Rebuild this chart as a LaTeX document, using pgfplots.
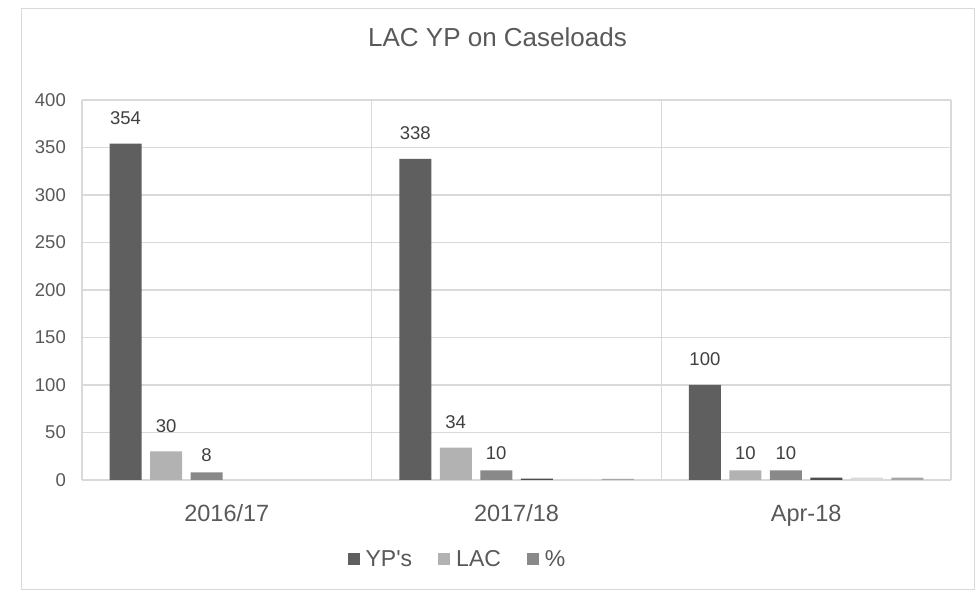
\documentclass[border=0pt]{standalone}
\usepackage{pgfplots}
\pgfplotsset{compat=1.18}
\usepackage{fontspec}
\setmainfont{Liberation Sans}
\newfontfamily\arial{Liberation Sans}
\definecolor{ypc}{HTML}{5F5F5F}
\definecolor{lacc}{HTML}{B2B2B2}
\definecolor{pctc}{HTML}{898989}
\definecolor{s4c}{HTML}{4D4D4D}
\definecolor{s5c}{HTML}{D9D9D9}
\definecolor{s6c}{HTML}{A6A6A6}
\definecolor{gridc}{HTML}{D9D9D9}
\definecolor{txt}{HTML}{595959}
\definecolor{lbl}{HTML}{404040}
\pgfplotsset{/pgf/number format/assume math mode=true}
\begin{document}
\begin{tikzpicture}
\useasboundingbox (0pt,0pt) rectangle (980pt,591pt);
\fill[white] (0pt,0pt) rectangle (980pt,591pt);
\draw[color=gridc, line width=1pt] (21.5pt,1pt) rectangle (974pt,582pt);
\node[anchor=base, inner sep=0pt, font=\arial\fontsize{26}{30}\selectfont, text=txt] at (497.5pt,544.3pt) {LAC YP on Caseloads};
\begin{axis}[
  at={(82pt,111pt)}, anchor=south west,
  scale only axis, width=869pt, height=380pt,
  ybar,
  bar width=32pt,
  ymin=0, ymax=400, ytick={0,50,...,400},
  xmin=-0.5, xmax=2.5,
  xtick={0,1,2},
  xticklabels={2016/17,2017/18,Apr-18},
  extra x ticks={-0.5,0.5,1.5,2.5},
  extra x tick labels={{},{},{},{}},
  extra x tick style={grid=major},
  ymajorgrids,
  grid style={color=gridc, line width=1.3pt},
  axis line style={draw=none},
  major tick length=0pt,
  yticklabel style={font=\arial\fontsize{18.5}{20}\selectfont, text=txt, anchor=east, inner sep=0pt, xshift=-16pt},
  xticklabel style={font=\arial\fontsize{23.5}{26}\selectfont, text=txt, anchor=base, inner sep=0pt, yshift=-41.7pt},
  visualization depends on={y \as \rawy},
  every node near coord/.append style={font=\arial\fontsize{18.5}{20}\selectfont, text=lbl, anchor=south, inner sep=0pt, yshift={ifthenelse(\rawy<20,11,19)*1pt}},
  legend style={at={(0.3057,-0.2079)}, anchor=west, draw=none, fill=none, inner sep=0pt, outer sep=0pt,
    legend columns=3, font=\arial\fontsize{23}{26}\selectfont, text=txt, nodes={inner sep=0pt},
    column sep=0pt,
    /tikz/every odd column/.append style={column sep=6pt},
    /tikz/every even column/.append style={column sep=26pt}},
  legend cell align=left,
  legend image code/.code={\fill[#1] (0pt,-6pt) rectangle (12pt,6pt);},
]
\addplot[fill=ypc, draw=none, bar shift=-101.25pt, nodes near coords] coordinates {(0,354) (1,338) (2,100)};
\addlegendentry{YP\symbol{39}s}
\addplot[fill=lacc, draw=none, bar shift=-60.75pt, nodes near coords] coordinates {(0,30) (1,34) (2,10)};
\addlegendentry{LAC}
\addplot[fill=pctc, draw=none, bar shift=-20.25pt, nodes near coords] coordinates {(0,8) (1,10) (2,10)};
\addlegendentry{\%}
\addplot[fill=s4c, draw=none, bar shift=20.25pt, forget plot] coordinates {(1,1.5) (2,2.5)};
\addplot[fill=s5c, draw=none, bar shift=60.75pt, forget plot] coordinates {(1,1.2) (2,2.5)};
\addplot[fill=s6c, draw=none, bar shift=101.25pt, forget plot] coordinates {(1,1.2) (2,2.5)};
\end{axis}
\end{tikzpicture}
\end{document}
